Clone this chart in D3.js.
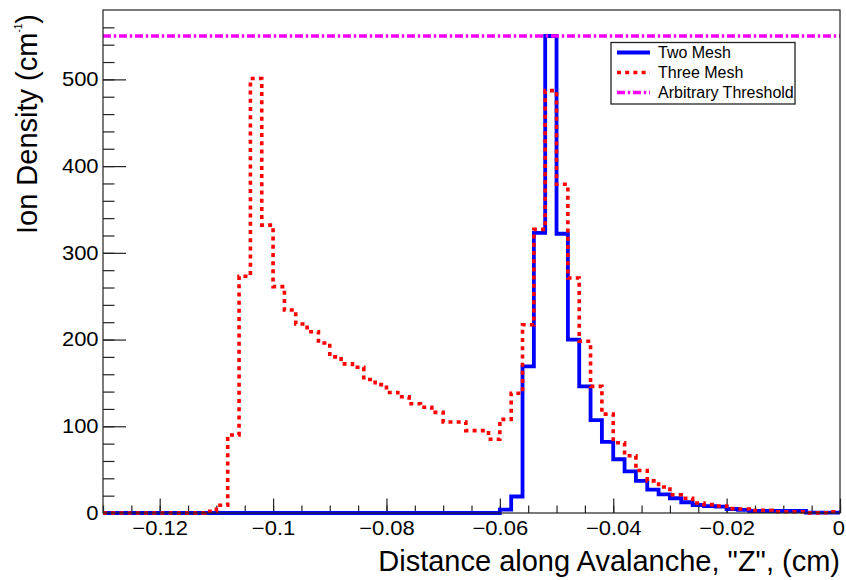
<!DOCTYPE html>
<html>
<head>
<meta charset="utf-8">
<script src="https://cdn.jsdelivr.net/npm/d3@7"></script>
<style>
  body { margin: 0; background: #fff; }
  svg text { font-family: "Liberation Sans", Arial, Helvetica, sans-serif; fill: #000; }
</style>
</head>
<body>
<svg id="chart" width="846" height="580"></svg>
<script>
// histogram binning (65 bins of 0.002 cm from -0.13 to 0)
const binLow = -0.13;
const binWidth = 0.002;

const twoMesh = [
  0, 0, 0, 0, 0, 0, 0, 0, 0, 0,
  0, 0, 0, 0, 0, 0, 0, 0, 0, 0,
  0, 0, 0, 0, 0, 0, 0, 0, 0, 0,
  0, 0, 0, 0, 0, 4, 19, 169, 323, 550,
  322, 200, 146, 107, 82, 62, 48, 37, 27, 21.5,
  17, 12.4, 9.2, 8, 7.3, 4.6, 3.5, 2.3, 2.3, 2.3,
  2.3, 2.3, 0.4, 0.4, 0.4
];

const threeMesh = [
  0, 0, 0, 0, 0, 0, 0, 0, 0, 2,
  9, 90, 273, 501, 332, 261, 234, 218, 209, 196,
  180, 172, 168, 154, 148, 139, 134, 126, 122, 116,
  105, 105, 95, 95, 85, 108, 138, 217, 327, 487,
  379, 271, 198, 146, 114, 81, 66, 49, 37, 30,
  21, 17, 11.5, 9.6, 8.1, 5, 4.6, 2.7, 3, 1.5,
  1.5, 1.5, 0.2, 0.3, 1.5
];

const threshold = 550;

const xTicks = [-0.12, -0.1, -0.08, -0.06, -0.04, -0.02, 0];
const xTickLabels = ["\u22120.12", "\u22120.1", "\u22120.08", "\u22120.06", "\u22120.04", "\u22120.02", "0"];
const yTicks = [0, 100, 200, 300, 400, 500];
const yTickLabels = ["0", "100", "200", "300", "400", "500"];

const legendLabels = ["Two Mesh", "Three Mesh", "Arbitrary Threshold"];

const svg = d3.select("#chart");
svg.append("rect").attr("width", 846).attr("height", 580).attr("fill", "#fff");

const frame = { left: 103, right: 840, top: 10, bottom: 513 };

const x = d3.scaleLinear().domain([-0.13, 0]).range([frame.left, frame.right]);
const y = d3.scaleLinear().domain([0, 580]).range([frame.bottom, frame.top]);

svg.append("clipPath").attr("id", "clip")
  .append("rect")
  .attr("x", frame.left).attr("y", frame.top - 2)
  .attr("width", frame.right - frame.left).attr("height", frame.bottom - frame.top + 4);

// axes: ROOT style, ticks pointing into the frame
const xMinor = d3.range(27).map(i => -0.13 + i * 0.005);
const yMinor = d3.range(29).map(i => i * 20);

svg.append("g")
  .attr("transform", `translate(0,${frame.bottom})`)
  .call(d3.axisBottom(x).tickValues(xMinor).tickSize(-7.5).tickFormat(""))
  .call(g => g.select(".domain").remove());

const xAxis = svg.append("g")
  .attr("transform", `translate(0,${frame.bottom})`)
  .call(d3.axisBottom(x).tickValues(xTicks).tickSize(-14.5).tickPadding(8)
    .tickFormat((d, i) => xTickLabels[i]))
  .call(g => g.select(".domain").remove());

svg.append("g")
  .attr("transform", `translate(${frame.left},0)`)
  .call(d3.axisLeft(y).tickValues(yMinor).tickSize(-11.5).tickFormat(""))
  .call(g => g.select(".domain").remove());

const yAxis = svg.append("g")
  .attr("transform", `translate(${frame.left},0)`)
  .call(d3.axisLeft(y).tickValues(yTicks).tickSize(-23).tickPadding(4)
    .tickFormat((d, i) => yTickLabels[i]))
  .call(g => g.select(".domain").remove());

svg.selectAll(".tick line").attr("stroke", "#222").attr("stroke-width", 1.2);
// the reference labels are a little wider than the plain font
[xAxis, yAxis].forEach(a => a.selectAll("text")
  .attr("font-size", 20).attr("fill", "#000")
  .attr("transform", "scale(1.1,1)")
  .style("font-family", "'Liberation Sans', Arial, sans-serif"));
// keep the last label inside the picture
xAxis.selectAll(".tick").filter(d => d === 0).select("text").attr("x", -1.5);

// histograms
const edges = d3.range(twoMesh.length + 1).map(i => binLow + i * binWidth);
function stepPoints(vals) {
  const pts = vals.map((v, i) => [edges[i], v]);
  pts.push([edges[vals.length], vals[vals.length - 1]]);
  return pts;
}
const line = d3.line()
  .x(d => x(d[0]))
  .y(d => y(d[1]))
  .curve(d3.curveStepAfter);

const plot = svg.append("g").attr("clip-path", "url(#clip)");

plot.append("path")
  .attr("d", line(stepPoints(twoMesh)))
  .attr("fill", "none")
  .attr("stroke", "#0000ff")
  .attr("stroke-width", 3.8);

plot.append("path")
  .attr("d", line(stepPoints(threeMesh)))
  .attr("fill", "none")
  .attr("stroke", "#ff0000")
  .attr("stroke-width", 3.6)
  .attr("stroke-dasharray", "4,4.2");

plot.append("line")
  .attr("x1", frame.left).attr("x2", frame.right)
  .attr("y1", y(threshold)).attr("y2", y(threshold))
  .attr("stroke", "#ff00ff")
  .attr("stroke-width", 3.3)
  .attr("stroke-dasharray", "8,2.8,2.4,2.8");

// frame
svg.append("rect")
  .attr("x", frame.left).attr("y", frame.top)
  .attr("width", frame.right - frame.left).attr("height", frame.bottom - frame.top)
  .attr("fill", "none").attr("stroke", "#222").attr("stroke-width", 1.2);

// axis titles
svg.append("text")
  .attr("x", frame.right).attr("y", 571)
  .attr("text-anchor", "end")
  .attr("font-size", 29)
  .text("Distance along Avalanche, \"Z\", (cm)");

const yTitle = svg.append("text")
  .attr("transform", `translate(37,${frame.top + 4}) rotate(-90)`)
  .attr("text-anchor", "end")
  .attr("font-size", 29);
yTitle.append("tspan").text("Ion Density (cm");
yTitle.append("tspan").attr("font-size", 10).attr("dy", -15).text("-1");
yTitle.append("tspan").attr("dy", 15).text(")");

// legend
const legend = svg.append("g");
legend.append("rect")
  .attr("x", 611).attr("y", 42.5).attr("width", 184).attr("height", 61.5)
  .attr("fill", "#fff").attr("stroke", "#222").attr("stroke-width", 1.3);

const legendStyles = [
  { stroke: "#0000ff", width: 3.8, dash: null },
  { stroke: "#ff0000", width: 3.6, dash: "4,4.2" },
  { stroke: "#ff00ff", width: 3.3, dash: "8,2.8,2.4,2.8" }
];

legendLabels.forEach((label, i) => {
  const cy = 52.5 + i * 20;
  const s = legendStyles[i];
  legend.append("line")
    .attr("x1", 617).attr("x2", 650).attr("y1", cy).attr("y2", cy)
    .attr("stroke", s.stroke).attr("stroke-width", s.width)
    .attr("stroke-dasharray", s.dash);
  legend.append("text")
    .attr("x", 658).attr("y", cy).attr("dy", "0.36em")
    .attr("font-size", 16)
    .text(label);
});
</script>
</body>
</html>
